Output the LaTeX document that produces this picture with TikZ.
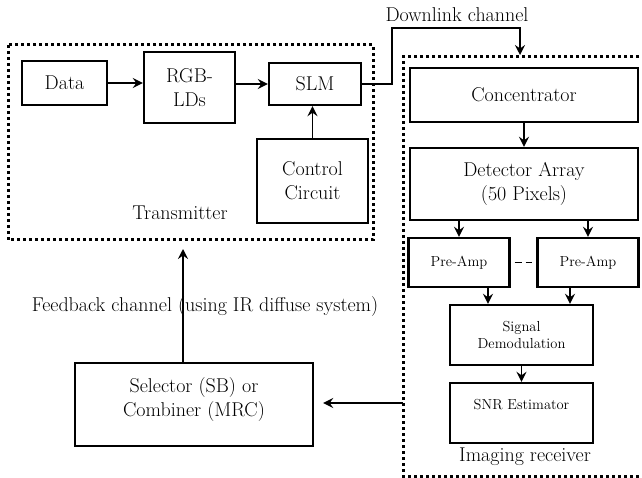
\documentclass[tikz,border=0pt]{standalone}
\usepackage{tikz}
\usetikzlibrary{arrows.meta,calc}
\tikzstyle{block}=[draw,line width=2.4pt,align=center,inner sep=0pt,font=\fontsize{20}{24}\selectfont]
\tikzstyle{small block}=[block,font=\fontsize{14.5}{17}\selectfont]
\tikzstyle{frame}=[draw,line width=3pt,dash pattern=on 3pt off 3pt]
\tikzstyle{link}=[draw,line width=1.6pt,-{Stealth[length=10pt,width=10pt,inset=3.5pt]}]
\tikzstyle{caption}=[inner sep=0pt,font=\fontsize{20}{24}\selectfont]

\begin{document}
\begin{tikzpicture}[x=1pt,y=-1pt]
    \useasboundingbox (0,0) rectangle (642,478);
    % Dotted frames of transmitter and receiver
    \draw[frame] (8,45) rectangle (373,240);
    \draw[frame] (645,57) -- (403,57) -- (403,476) -- (645,476);

    % Transmitter blocks
    \node[block,minimum width=85,minimum height=44] (data) at (64.5,83) {Data};
    \node[block,minimum width=91,minimum height=71] (rgb) at (189.5,87.5) {RGB-\\LDs};
    \node[block,minimum width=92,minimum height=42] (slm) at (315,84) {SLM};
    \node[block,minimum width=111,minimum height=84] (ctrl) at (312.5,181) {Control\\Circuit};
    \node[caption] (tx) at (180,213) {Transmitter};

    % Receiver blocks
    \node[block,minimum width=228,minimum height=54] (conc) at (524,95) {Concentrator};
    \node[block,minimum width=228,minimum height=72] (det) at (524,184) {Detector Array\\(50 Pixels)};
    \foreach \pos/\name in {{(459,262.5)/pa1}, {(588,262.5)/pa2}}
        \node[small block,minimum width=101,minimum height=49] (\name) at \pos {Pre-Amp};
    \node[small block,minimum width=143,minimum height=60] (sig) at (521.5,335) {Signal\\Demodulation};
    \node[small block,minimum width=143,minimum height=60] (snr) at (521.5,413) {SNR Estimator\\\mbox{}};
    \node[caption] (rx) at (525,457) {Imaging receiver};

    % Selector and channel labels
    \node[block,minimum width=238,minimum height=83] (sel) at (194,404.5) {Selector (SB) or\\Combiner (MRC)\\[-10pt]\mbox{}};
    \node[caption] (dl) at (457,15) {Downlink channel};
    \node[caption] (fb) at (205,307) {Feedback channel (using IR diffuse system)};

    % Free ends of the connectors
    \coordinate (bend) at (392,28);
    \coordinate (rxin) at (520,55);
    \coordinate (rxout) at (403,403);
    \coordinate (fbtip) at (183,249);
    \coordinate (t1) at ($(pa1.south)+(29,0)$);
    \coordinate (t2) at ($(pa2.south)+(-18,0)$);

    % Connect blocks with arrows
    \path[link] (data.east) -- (data.east -| rgb.west);
    \path[link] (rgb.east |- slm) -- (slm.west);
    \path[link] (ctrl.north) -- (ctrl.north |- slm.south);
    \path[link] (slm.east) -| (bend) -| (rxin);
    \path[link] (conc) -- (det);
    \foreach \name in {pa1, pa2}
        \path[link] (\name.north |- det.south) -- (\name.north);
    \foreach \tip in {t1, t2}
        \path[link] (\tip) -- (\tip |- sig.north);
    \path[link] (sig) -- (snr);
    \draw[line width=1.5pt,dash pattern=on 7pt off 4pt,shorten <=4pt,shorten >=4pt] (pa1.east) -- (pa2.west);
    \path[link,shorten >=9pt] (rxout) -- (sel.east |- rxout);
    \path[link] (sel.north -| fbtip) -- (fbtip);
\end{tikzpicture}
\end{document}
